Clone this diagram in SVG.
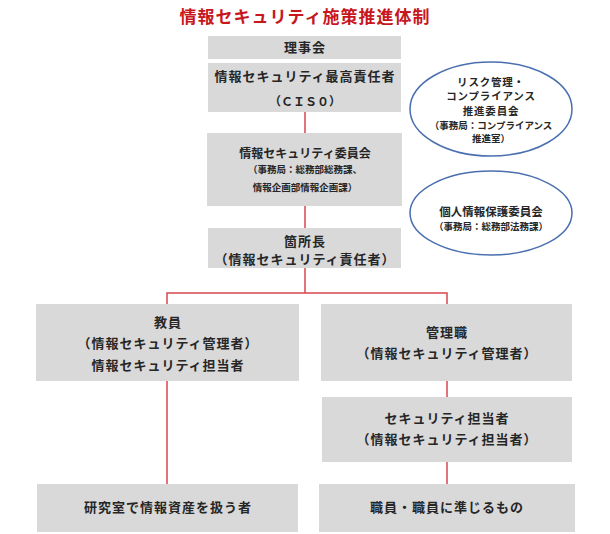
<svg xmlns="http://www.w3.org/2000/svg" width="610" height="534" viewBox="0 0 610 534">
<style>
text{font-family:"Noto Sans CJK JP","Noto Sans",sans-serif;font-weight:bold;fill:#262626;text-anchor:middle}
.title{fill:#C8161D;font-size:17px;letter-spacing:1px}
.box{fill:#D9D9D9}
.m{font-size:13px;letter-spacing:1px}
.s{font-size:9.5px}
.e{font-size:10.5px;letter-spacing:0.8px}
.conn{stroke:#D6474F;stroke-width:1.5;fill:none}
.ell{fill:#fff;stroke:#4A6FB0;stroke-width:1.5}
</style>
<rect width="610" height="534" fill="#fff"/>
<text class="title" x="305" y="23">情報セキュリティ施策推進体制</text>
<g id="connectors">
<path class="conn" d="M305 112V133M305 206V228M305 268V293M167 304V293H447V304M167 381V484M447 381V397M447 462V484"/>
</g>
<g id="board"><rect class="box" x="208" y="36" width="193" height="23"/><text class="m" x="305" y="52">理事会</text></g>
<g id="ciso"><rect class="box" x="208" y="63" width="193" height="49"/><text class="m" x="305" y="81">情報セキュリティ最高責任者</text><text x="305" y="106" font-size="12px">（ＣＩＳ０）</text></g>
<g id="committee"><rect class="box" x="207" y="133" width="195" height="73"/><text x="305" y="158" font-size="12px">情報セキュリティ委員会</text><text class="s" x="305" y="173">（事務局：総務部総務課、</text><text class="s" x="305" y="191">情報企画部情報企画課）</text></g>
<g id="head"><rect class="box" x="208" y="228" width="193" height="40"/><text class="m" x="305" y="246">箇所長</text><text class="m" x="305" y="264">（情報セキュリティ責任者）</text></g>
<g id="risk"><ellipse class="ell" cx="491" cy="109" rx="81" ry="47"/><text class="e" x="491" y="85.5">リスク管理・</text><text class="e" x="491" y="100">コンプライアンス</text><text class="e" x="491" y="114.5">推進委員会</text><text class="s" x="491" y="128.5">（事務局：コンプライアンス</text><text class="s" x="491" y="142">推進室）</text></g>
<g id="privacy"><ellipse class="ell" cx="491" cy="213" rx="81" ry="42"/><text x="491" y="216" font-size="11.5px">個人情報保護委員会</text><text class="s" x="491" y="230">（事務局：総務部法務課）</text></g>
<g id="faculty"><rect class="box" x="36" y="304" width="263" height="77"/><text class="m" x="168" y="327">教員</text><text class="m" x="168" y="348">（情報セキュリティ管理者）</text><text class="m" x="168" y="370">情報セキュリティ担当者</text></g>
<g id="manager"><rect class="box" x="321" y="304" width="251" height="77"/><text class="m" x="447" y="337">管理職</text><text class="m" x="447" y="358">（情報セキュリティ管理者）</text></g>
<g id="staffsec"><rect class="box" x="322" y="397" width="250" height="65"/><text class="m" x="447" y="423">セキュリティ担当者</text><text class="m" x="447" y="444">（情報セキュリティ担当者）</text></g>
<g id="lab"><rect class="box" x="37" y="484" width="261" height="48"/><text class="m" x="168" y="512">研究室で情報資産を扱う者</text></g>
<g id="staff"><rect class="box" x="319" y="484" width="256" height="48"/><text class="m" x="447" y="512">職員・職員に準じるもの</text></g>
</svg>
